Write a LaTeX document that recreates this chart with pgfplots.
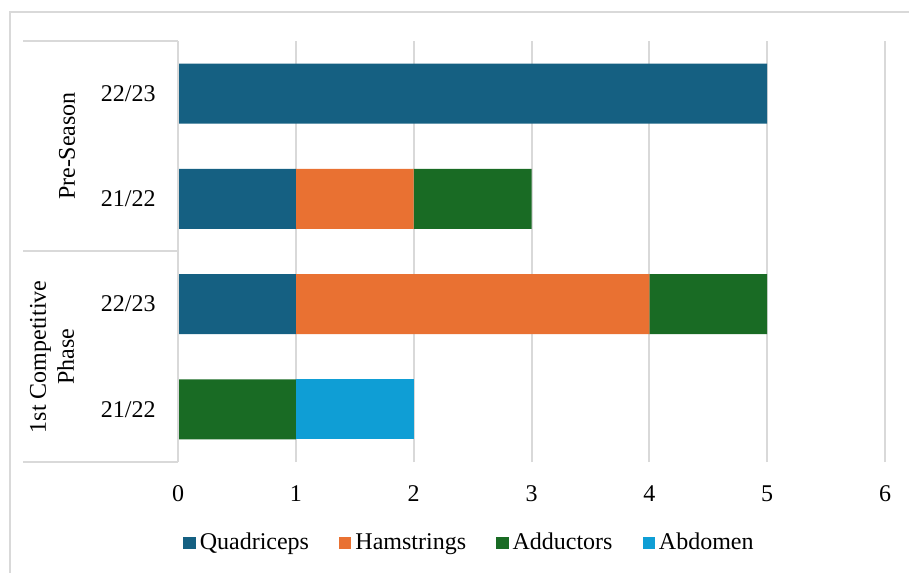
\documentclass[border=0pt]{standalone}
\usepackage{pgfplots}
\pgfplotsset{compat=1.18}
\usepackage{fontspec}
\setmainfont{Liberation Serif}

\definecolor{quad}{HTML}{156082}
\definecolor{ham}{HTML}{E97132}
\definecolor{add}{HTML}{196B24}
\definecolor{abd}{HTML}{0F9ED5}
\definecolor{gridgray}{HTML}{D9D9D9}

\newcommand{\chartfont}{\fontsize{12bp}{14bp}\selectfont}

\begin{document}
\begin{tikzpicture}
  \useasboundingbox (0bp,0bp) rectangle (454.5bp,286.5bp);
  \fill[white] (0bp,0bp) rectangle (454.5bp,286.5bp);
  % outer chart frame, running off the right and bottom edges
  \begin{scope}
    \clip (0bp,0bp) rectangle (454.5bp,286.5bp);
    \draw[gridgray, line width=0.75bp] (5bp,-10bp) -- (5bp,280.5bp) -- (465bp,280.5bp);
  \end{scope}

  \begin{axis}[
    at={(89bp,55.5bp)}, anchor=south west,
    scale only axis,
    width=353.5bp, height=210.5bp,
    xbar stacked,
    bar width=0.57,
    xmin=0, xmax=6,
    ymin=-0.5, ymax=3.5,
    xtick={0,1,2,3,4,5,6},
    ytick={0,1,2,3},
    yticklabels={21/22,22/23,21/22,22/23},
    axis line style={draw=none},
    tick style={draw=none},
    xmajorgrids,
    major grid style={draw=gridgray, line width=1bp},
    /pgf/number format/assume math mode=true,
    ticklabel style={font=\chartfont},
    xticklabel style={anchor=north, inner sep=0pt, yshift=-11.5bp},
    yticklabel style={anchor=east, inner sep=0pt, xshift=-11bp},
    legend columns=4,
    legend style={draw=none, fill=none, font=\chartfont,
      at={(0.4137,-0.192)}, anchor=center,
      /tikz/every even column/.append style={column sep=13bp},
      nodes={inner xsep=2bp}},
    legend image code/.code={\fill[#1] (0bp,-3bp) rectangle (6.2bp,3bp);},
  ]
    \addplot[fill=quad, draw=none] coordinates {(0,0) (1,1) (1,2) (5,3)};
    \addplot[fill=ham, draw=none] coordinates {(0,0) (3,1) (1,2) (0,3)};
    \addplot[fill=add, draw=none] coordinates {(1,0) (1,1) (1,2) (0,3)};
    \addplot[fill=abd, draw=none] coordinates {(1,0) (0,1) (0,2) (0,3)};
    \legend{Quadriceps,Hamstrings,Adductors,Abdomen}
  \end{axis}

  % category group separators
  \draw[gridgray, line width=1bp] (11.5bp,266bp) -- (89bp,266bp);
  \draw[gridgray, line width=1bp] (11.5bp,161bp) -- (89bp,161bp);
  \draw[gridgray, line width=1bp] (11.5bp,55.5bp) -- (89bp,55.5bp);
  \draw[gridgray, line width=1bp] (89bp,55.5bp) -- (89bp,266bp);

  % group labels
  \node[rotate=90, font=\chartfont] at (33.5bp,213.5bp) {Pre-Season};
  \node[rotate=90, font=\chartfont, align=center, inner sep=0pt] at (26bp,108bp) {1st Competitive\\Phase};
\end{tikzpicture}
\end{document}
